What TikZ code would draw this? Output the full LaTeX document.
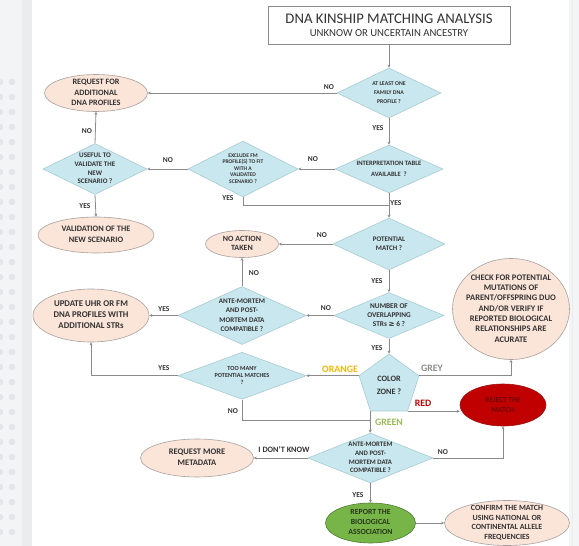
\documentclass[tikz,border=0pt]{standalone}
\usepackage{fontspec}
\setmainfont{Carlito}
\newfontfamily\symfont{DejaVu Sans}
\usetikzlibrary{shapes.geometric,arrows.meta}
\definecolor{bgc}{HTML}{F3F4F6}
\definecolor{stripc}{HTML}{ECECEE}
\definecolor{dotc}{HTML}{E4E5E8}
\definecolor{dfill}{HTML}{C9E7EE}
\definecolor{dline}{HTML}{A9CBD3}
\definecolor{efill}{HTML}{FBE4D8}
\definecolor{eline}{HTML}{A8A29E}
\definecolor{lcol}{HTML}{8A8A8A}
\definecolor{txt}{HTML}{333333}
\definecolor{orangec}{HTML}{F2B705}
\definecolor{greyc}{HTML}{8C8C8C}
\definecolor{redc}{HTML}{C00000}
\definecolor{greenc}{HTML}{9BBB59}
\definecolor{rejfill}{HTML}{C00000}
\definecolor{rejline}{HTML}{9E0F0F}
\definecolor{rejtxt}{HTML}{6E0505}
\definecolor{repfill}{HTML}{78B548}
\definecolor{repline}{HTML}{4F7D2F}
\definecolor{reptxt}{HTML}{25361A}
\newcommand\ctext[1]{\raisebox{-.25em}[0pt][0pt]{\makebox[0pt]{\begin{tabular}{@{}c@{}}#1\end{tabular}}}}
\tikzset{
  fs/.style 2 args={font=\fontsize{#1}{#2}\selectfont\bfseries},
  dia/.style={diamond, draw=dline, fill=dfill, inner sep=0pt, line width=0.6pt, text=txt},
  ell/.style={ellipse, draw=eline, fill=efill, inner sep=0pt, line width=0.6pt, text=txt},
  lab/.style={font=\fontsize{7.5}{8}\selectfont\bfseries, text=txt, inner sep=0pt},
  zlab/.style={font=\fontsize{9.8}{10}\selectfont\bfseries, inner sep=0pt},
  conn/.style={draw=lcol, line width=0.8pt},
  arr/.style={conn, -{Stealth[length=3pt,width=3pt]}}
}
\begin{document}
\begin{tikzpicture}[x=1pt,y=-1pt]
\useasboundingbox (0,0) rectangle (579,546);
% background
\fill[bgc] (0,0) rectangle (579,546);
\fill[stripc] (22,0) rectangle (32,546);
\foreach \yy in {82,97,...,545} {\fill[dotc] (12,\yy) circle (3.3pt); \fill[dotc] (0,\yy) circle (3.3pt);}
\fill[white] (32,0) rectangle (569,546);
\draw[draw=stripc, line width=0.6pt] (572,0) -- (572,546);

% title
\node[draw=lcol, fill=white, line width=0.7pt, minimum width=242pt, minimum height=38pt, inner sep=0pt, text=txt, font=\fontsize{14.7}{13.5}\selectfont] (title) at (389,25)
  {\raisebox{-6pt}[0pt][0pt]{\makebox[0pt]{\begin{tabular}{@{}c@{}}DNA KINSHIP MATCHING ANALYSIS\\{\fontsize{10.7}{11}\selectfont UNKNOW OR UNCERTAIN ANCESTRY}\end{tabular}}}};

% nodes
\node[dia, minimum width=104pt, minimum height=50pt, fs={5.8}{9.2}] (d1) at (389,93)
  {\ctext{AT LEAST ONE\\FAMILY DNA\\PROFILE ?}};
\node[ell, minimum width=103pt, minimum height=37pt, fs={8.2}{10.5}] (req) at (96,93)
  {\ctext{REQUEST FOR\\ADDITIONAL\\DNA PROFILES}};
\node[dia, minimum width=104pt, minimum height=51pt, fs={7}{8.6}] (useful) at (95,169)
  {\ctext{USEFUL TO\\VALIDATE THE\\NEW\\SCENARIO ?}};
\node[ell, minimum width=116pt, minimum height=36pt, fs={8.3}{10.7}] (valid) at (96,235)
  {\ctext{VALIDATION OF THE\\NEW SCENARIO}};
\node[dia, minimum width=110pt, minimum height=56pt, fs={5.6}{6.6}] (excl) at (243,169)
  {\ctext{EXCLUDE FM\\PROFILE(S) TO FIT\\WITH A\\VALIDATED\\SCENARIO ?}};
\node[dia, minimum width=108pt, minimum height=48pt, fs={6.6}{10.5}] (interp) at (389,169)
  {\ctext{INTERPRETATION TABLE\\AVAILABLE~~?}};
\node[dia, minimum width=112pt, minimum height=52pt, fs={7}{9}] (potential) at (389,244)
  {\ctext{POTENTIAL\\MATCH ?}};
\node[ell, minimum width=73pt, minimum height=27pt, fs={8}{9.8}] (noact) at (242,244)
  {\ctext{NO ACTION\\TAKEN}};
\node[dia, minimum width=128pt, minimum height=58pt, fs={7.1}{9.3}] (ante1) at (242,315.5)
  {\ctext{ANTE-MORTEM\\AND POST-\\MORTEM DATA\\COMPATIBLE ?}};
\node[dia, minimum width=110pt, minimum height=46pt, fs={7.3}{9.2}] (number) at (389,315.5)
  {\ctext{NUMBER OF\\OVERLAPPING\\STRs {\symfont ≥} 6 ?}};
\node[ell, minimum width=116pt, minimum height=53pt, fs={8.8}{11}] (update) at (91,315.5)
  {\ctext{UPDATE UHR OR FM\\DNA PROFILES WITH\\ADDITIONAL STRs}};
\node[ell, minimum width=117pt, minimum height=101pt, fs={8.5}{10.3}] (check) at (511,309)
  {\ctext{CHECK FOR POTENTIAL\\MUTATIONS OF\\PARENT/OFFSPRING DUO\\AND/OR VERIFY IF\\REPORTED BIOLOGICAL\\RELATIONSHIPS ARE\\ACURATE}};
\node[regular polygon, regular polygon sides=5, minimum size=63pt, inner sep=0pt, fill=dfill, draw=dline, line width=0.6pt, text=txt, fs={8.2}{12.5}] (color) at (389,385.5)
  {\ctext{COLOR\\ZONE ?}};
\node[dia, minimum width=128pt, minimum height=47pt, fs={6.2}{7.2}] (tm) at (242,375.8)
  {\ctext{TOO MANY\\POTENTIAL MATCHES\\?}};
\node[ellipse, draw=rejline, fill=rejfill, line width=0.6pt, inner sep=0pt, minimum width=86pt, minimum height=42pt, text=rejtxt, fs={7.5}{10}] (reject) at (503,405)
  {\ctext{REJECT THE\\MATCH}};
\node[dia, minimum width=125pt, minimum height=50pt, fs={6.8}{8.8}] (ante2) at (370.5,458)
  {\ctext{ANTE-MORTEM\\AND POST-\\MORTEM DATA\\COMPATIBLE ?}};
\node[ell, minimum width=113pt, minimum height=38pt, fs={8.5}{10.7}] (reqmore) at (197,458)
  {\ctext{REQUEST MORE\\METADATA}};
\node[ellipse, draw=repline, fill=repfill, line width=0.6pt, inner sep=0pt, minimum width=90pt, minimum height=40pt, text=reptxt, fs={7.8}{10}] (report) at (370.5,523)
  {\ctext{REPORT THE\\BIOLOGICAL\\ASSOCIATION}};
\node[ell, minimum width=125pt, minimum height=45pt, fs={7.9}{9.5}] (confirm) at (507,523)
  {\ctext{CONFIRM THE MATCH\\USING NATIONAL OR\\CONTINENTAL ALLELE\\FREQUENCIES}};

\coordinate (yj) at (389,205);
\coordinate (gj) at (370.5,420);

% connectors
\draw[arr] (title.south) -- (d1.north);
\draw[arr] (d1.west) -- (req.east);
\draw[arr] (d1.south) -- (interp.north);
\draw[arr] (interp.west) -- (excl.east);
\draw[arr] (excl.west) -- (useful.east);
\draw[arr] (useful.north) -- (req.south);
\draw[arr] (useful.south) -- (valid.north);
\draw[conn] (excl.south) |- (yj);
\draw[arr] (interp.south) -- (potential.north);
\draw[arr] (potential.west) -- (noact.east);
\draw[arr] (potential.south) -- (number.north);
\draw[arr] (number.west) -- (ante1.east);
\draw[arr] (ante1.north) -- (noact.south);
\draw[arr] (ante1.west) -- (update.east);
\draw[arr] (number.south) -- (color.corner 1);
\draw[arr] (color.corner 2) -- (color.corner 2 -| tm.east);
\draw[arr] (tm.west) -| (update.south);
\draw[conn] (tm.south) |- (gj);
\draw[arr] (color.corner 5) -| (check.south);
\draw[arr] (color.corner 4) -- (color.corner 4 -| reject.west);
\draw[arr] (color.corner 3) -- (color.corner 3 |- ante2.north);
\draw[arr] (ante2.west) -- (reqmore.east);
\draw[arr] (ante2.east) -| (reject.south);
\draw[arr] (ante2.south) -- (report.north);
\draw[arr] (report.east) -- (confirm.west);

% labels
\node[lab] (l1) at (329,87) {NO};
\node[lab] (l2) at (378,128) {YES};
\node[lab] (l3) at (87,131) {NO};
\node[lab] (l4) at (85,206) {YES};
\node[lab] (l5) at (168,160) {NO};
\node[lab] (l6) at (313,159) {NO};
\node[lab] (l7) at (228,198) {YES};
\node[lab] (l8) at (396,203) {YES};
\node[lab] (l9) at (322,235) {NO};
\node[lab] (l10) at (377,281) {YES};
\node[lab] (l11) at (254,273) {NO};
\node[lab] (l12) at (326,308) {NO};
\node[lab] (l13) at (164,309) {YES};
\node[lab] (l14) at (377,348) {YES};
\node[lab] (l15) at (164,368) {YES};
\node[lab] (l16) at (233,411) {NO};
\node[lab, font=\fontsize{8.2}{9}\selectfont\bfseries] (l17) at (284,450) {I DON'T KNOW};
\node[lab] (l18) at (443,452) {NO};
\node[lab] (l19) at (358,495) {YES};
\node[zlab, text=orangec] (z1) at (340,369) {ORANGE};
\node[zlab, text=greyc] (z2) at (432,368) {GREY};
\node[zlab, text=redc] (z3) at (423,403) {RED};
\node[zlab, text=greenc] (z4) at (389,422) {GREEN};
\end{tikzpicture}
\end{document}
